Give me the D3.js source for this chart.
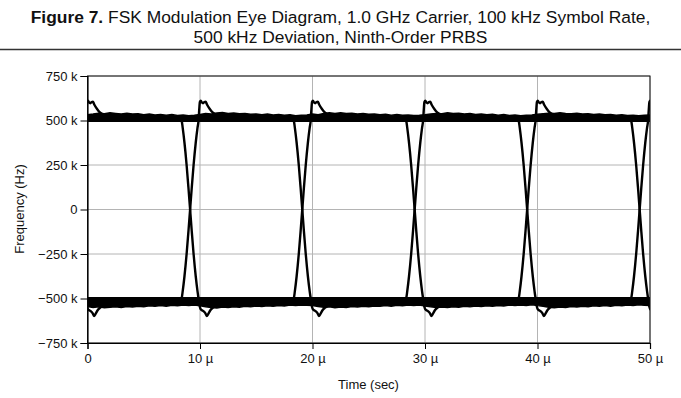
<!DOCTYPE html>
<html><head><meta charset="utf-8">
<script src="https://cdn.jsdelivr.net/npm/d3@7"></script>
<style>body{margin:0;background:#fff} svg{display:block;font-family:"Liberation Sans",Arial,Helvetica,sans-serif}</style>
</head><body>
<svg id="chart" width="681" height="398"></svg>
<script>
// ---------- data ----------
const titleBold = "Figure 7.";
const titleLine1 = " FSK Modulation Eye Diagram, 1.0 GHz Carrier, 100 kHz Symbol Rate,";
const titleLine2 = "500 kHz Deviation, Ninth-Order PRBS";
const xLabel = "Time (sec)";
const yLabel = "Frequency (Hz)";
const xTicks = [0, 10e-6, 20e-6, 30e-6, 40e-6, 50e-6];
const xTickLabels = ["0", "10 µ", "20 µ", "30 µ", "40 µ", "50 µ"];
const yTicks = [750e3, 500e3, 250e3, 0, -250e3, -500e3, -750e3];
const yTickLabels = ["750 k", "500 k", "250 k", "0", "−250 k", "−500 k", "−750 k"];

const deviationHz = 500e3;          // nominal FSK deviation (thick band centre)
const bandStepUs = 0.5;             // sample spacing of the noisy band edges
// upper edge of the +500 kHz band (kHz), t = 0 … 50 µs
const posBandTopKHz = [
  532,536,541,538,543,540,537,541,536,538,533,536,531,534,530,533,528,531,527,530,
  534,539,537,542,545,540,542,538,540,535,537,533,536,531,534,529,532,527,529,531,
  536,533,539,543,540,544,539,541,537,539,535,537,532,535,530,533,529,531,528,530,
  533,537,540,538,543,539,541,536,539,534,537,532,535,530,533,528,531,527,529,531,
  535,538,541,539,544,540,538,541,536,538,534,536,532,534,530,532,528,530,527,529,
  531];
// lower edge of the −500 kHz band (kHz), t = 0 … 50 µs
const negBandBottomKHz = [
  -545,-550,-547,-552,-549,-546,-550,-545,-548,-543,-546,-541,-544,-540,-543,-538,-541,-537,-539,-536,
  -541,-546,-550,-553,-548,-551,-546,-549,-544,-547,-542,-545,-541,-543,-539,-542,-537,-540,-536,-538,
  -540,-545,-549,-547,-552,-548,-550,-545,-548,-543,-546,-542,-544,-540,-543,-538,-541,-537,-540,-537,
  -542,-547,-551,-548,-550,-546,-549,-544,-547,-542,-545,-541,-543,-539,-542,-537,-540,-536,-539,-535,
  -540,-544,-549,-552,-548,-550,-545,-548,-543,-546,-541,-544,-540,-543,-538,-541,-537,-539,-535,-538,
  -540];

// symbol-transition crossing times (µs); the first one lies just before the window
const crossingTimesUs = [-0.9, 9.12, 19.09, 29.08, 39.08, 49.08];
// trace shapes around a crossing: [µs relative to crossing, kHz]
const risingTrace = [
  [-1.0,-500],[-0.8,-502],[-0.74,-495],[-0.66,-460],[-0.5,-375],[-0.31,-250],[-0.15,-125],[0,0],
  [0.15,125],[0.31,250],[0.5,375],[0.66,460],[0.75,500],[0.81,560],[0.87,604],[0.95,611],
  [1.05,601],[1.15,597],[1.28,604],[1.38,606],[1.5,590],[1.75,565],[2.0,546],[2.25,535]];
const fallingTrace = [
  [-1.0,500],[-0.8,502],[-0.74,495],[-0.66,460],[-0.5,375],[-0.31,250],[-0.15,125],[0,0],
  [0.15,-125],[0.31,-250],[0.5,-375],[0.66,-460],[0.75,-500],[0.82,-532],[0.92,-557],
  [1.05,-566],[1.2,-572],[1.35,-582],[1.48,-598],[1.62,-586],[1.8,-566],[2.0,-553],[2.3,-542]];

// ---------- chart ----------
const svg = d3.select("#chart");
const W = 681, H = 398;
svg.append("rect").attr("width", W).attr("height", H).attr("fill", "#fff");

const x = d3.scaleLinear().domain([0, 50e-6]).range([87.5, 650]);
const y = d3.scaleLinear().domain([-750e3, 750e3]).range([343, 76]);

// title
const t1 = svg.append("text").attr("x", 340.5).attr("y", 23).attr("text-anchor", "middle")
  .attr("font-size", 17.4).attr("fill", "#111");
t1.append("tspan").attr("font-weight", "bold").text(titleBold);
t1.append("tspan").text(titleLine1);
svg.append("text").attr("x", 340.5).attr("y", 43).attr("text-anchor", "middle")
  .attr("font-size", 17.4).attr("fill", "#111").text(titleLine2);
svg.append("line").attr("x1", 0).attr("x2", W).attr("y1", 49.5).attr("y2", 49.5)
  .attr("stroke", "#333").attr("stroke-width", 1.6);

// grid
const grid = svg.append("g").attr("stroke", "#b4b4b4").attr("stroke-width", 1);
grid.selectAll(".gx").data(xTicks).join("line")
  .attr("x1", d => x(d)).attr("x2", d => x(d)).attr("y1", y(750e3)).attr("y2", y(-750e3));
grid.selectAll(".gy").data(yTicks).join("line")
  .attr("x1", x(0)).attr("x2", x(50e-6)).attr("y1", d => y(d)).attr("y2", d => y(d));

// clip
svg.append("clipPath").attr("id", "plotclip").append("rect")
  .attr("x", x(0)).attr("y", y(750e3)).attr("width", x(50e-6) - x(0)).attr("height", y(-750e3) - y(750e3));
const plot = svg.append("g").attr("clip-path", "url(#plotclip)");

// noisy bands
const tOf = i => i * bandStepUs * 1e-6;
const posArea = d3.area().x((d, i) => x(tOf(i))).y0(y(deviationHz)).y1(d => y(d * 1e3));
const negArea = d3.area().x((d, i) => x(tOf(i))).y0(y(-deviationHz)).y1(d => y(d * 1e3));
plot.append("path").datum(posBandTopKHz).attr("d", posArea).attr("fill", "#000");
plot.append("path").datum(negBandBottomKHz).attr("d", negArea).attr("fill", "#000");
const edgeLine = d3.line().x((d, i) => x(tOf(i))).y(d => y(d * 1e3));
plot.append("path").datum(posBandTopKHz).attr("d", edgeLine).attr("fill", "none").attr("stroke", "#000").attr("stroke-width", 1.5);
plot.append("path").datum(negBandBottomKHz).attr("d", edgeLine).attr("fill", "none").attr("stroke", "#000").attr("stroke-width", 1.5);
plot.append("line").attr("x1", x(0)).attr("x2", x(50e-6)).attr("y1", y(deviationHz)).attr("y2", y(deviationHz))
  .attr("stroke", "#000").attr("stroke-width", 3);
plot.append("line").attr("x1", x(0)).attr("x2", x(50e-6)).attr("y1", y(-deviationHz)).attr("y2", y(-deviationHz))
  .attr("stroke", "#000").attr("stroke-width", 3);

// transition traces
const traceLine = d3.line().curve(d3.curveMonotoneX).x(d => x(d[0] * 1e-6)).y(d => y(d[1] * 1e3));
crossingTimesUs.forEach(c => {
  [risingTrace, fallingTrace].forEach(tr => {
    const pts = tr.map(p => [c + p[0], p[1]]);
    plot.append("path").datum(pts).attr("d", traceLine).attr("fill", "none")
      .attr("stroke", "#000").attr("stroke-width", 2.4).attr("stroke-linejoin", "round");
  });
});

// frame
svg.append("rect").attr("x", x(0)).attr("y", y(750e3)).attr("width", x(50e-6) - x(0))
  .attr("height", y(-750e3) - y(750e3)).attr("fill", "none").attr("stroke", "#111").attr("stroke-width", 1);

// axes
const yAxis = d3.axisLeft(y).tickValues(yTicks).tickFormat((d, i) => yTickLabels[i]).tickSize(7).tickPadding(3);
const gy = svg.append("g").attr("transform", `translate(${x(0)},0)`).call(yAxis);
const xAxis = d3.axisBottom(x).tickValues(xTicks).tickFormat((d, i) => xTickLabels[i]).tickSize(6).tickPadding(5);
const gx = svg.append("g").attr("transform", `translate(0,${y(-750e3)})`).call(xAxis);
[gx, gy].forEach(g => {
  g.select(".domain").attr("stroke", "#000").attr("stroke-width", 1.2);
  g.selectAll(".tick line").attr("stroke", "#000");
  g.selectAll(".tick text").attr("font-size", 13).attr("fill", "#111")
    .attr("font-family", '"Liberation Sans",Arial,Helvetica,sans-serif');
});

// axis titles
svg.append("text").attr("x", 368.5).attr("y", 389).attr("text-anchor", "middle")
  .attr("font-size", 13).attr("fill", "#111").text(xLabel);
svg.append("text").attr("transform", "translate(24,209) rotate(-90)").attr("text-anchor", "middle")
  .attr("font-size", 13).attr("fill", "#111").text(yLabel);
</script>
</body></html>
